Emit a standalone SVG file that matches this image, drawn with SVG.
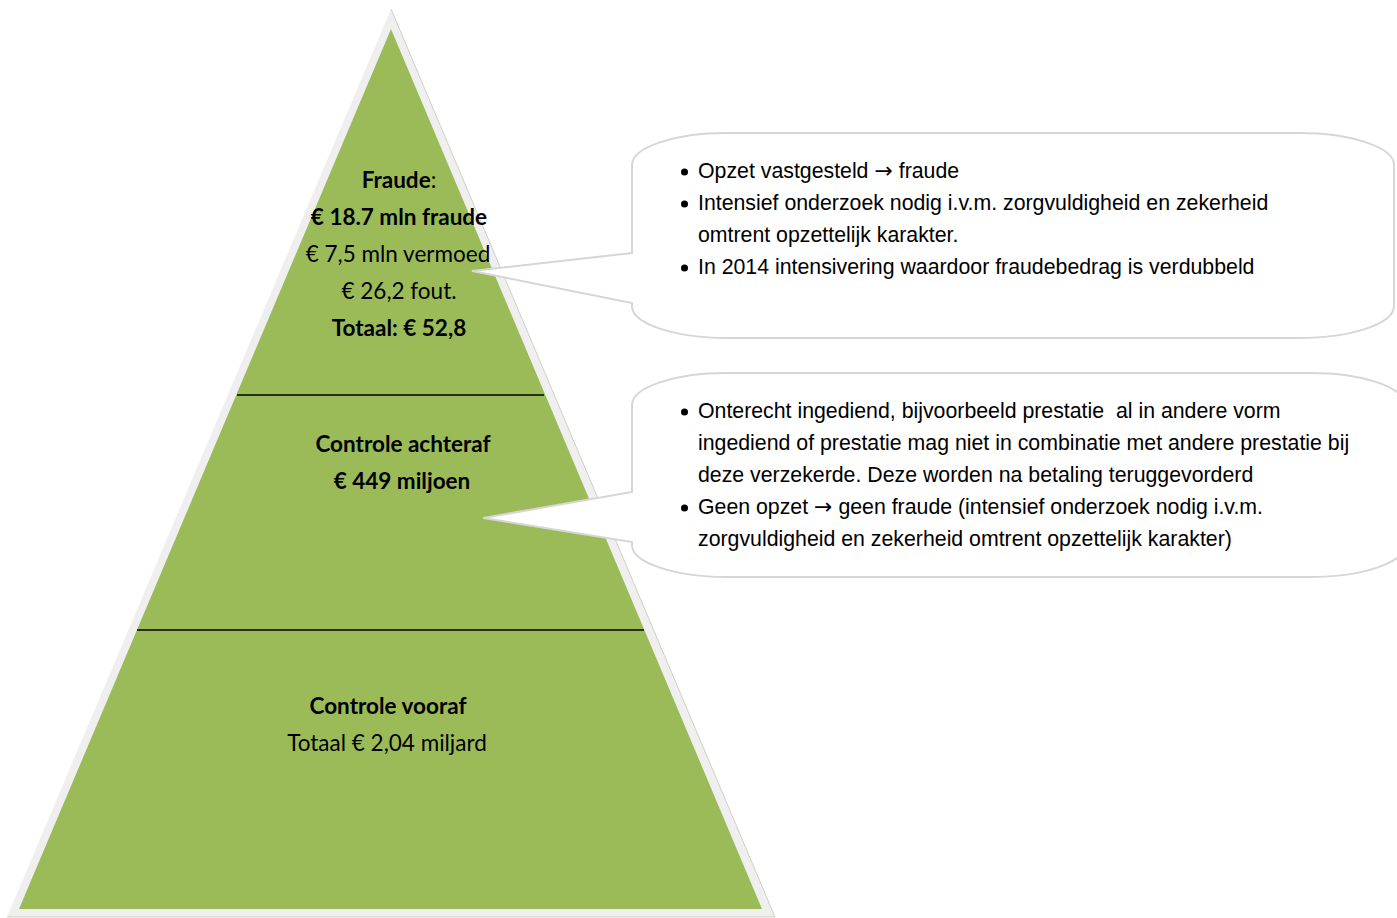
<svg xmlns="http://www.w3.org/2000/svg" width="1397" height="918" viewBox="0 0 1397 918">
<style>
.pt{font-family:Lato,"Open Sans","Liberation Sans",sans-serif;font-size:22.5px;fill:#000;text-anchor:middle}
.b{font-weight:bold}
.ct{font-family:"Liberation Sans",Arial,sans-serif;font-size:21.3px;fill:#000}
.ar{font-family:"DejaVu Sans",sans-serif;font-size:22px}
.call{fill:#fff;stroke:#d6d6d6;stroke-width:2}
</style>
<rect width="1397" height="918" fill="#fff"/>
<g id="pyramid">
<polygon points="391,9 7,917 775,917" fill="#efefef"/>
<polyline points="391,9 775,917 7,917" fill="none" stroke="#cfcfc3" stroke-width="1"/>
<polygon points="391,29 19,909 762,909" fill="#9bbb59"/>
<line x1="237" y1="395" x2="544" y2="395" stroke="#000" stroke-width="1.5"/>
<line x1="137" y1="630" x2="644" y2="630" stroke="#000" stroke-width="1.5"/>
</g>
<g id="tier-fraude">
<text class="pt" x="399" y="188"><tspan class="b">Fraude</tspan>:</text>
<text class="pt b" x="399" y="225">€ 18.7 mln fraude</text>
<text class="pt" x="398" y="262">€ 7,5 mln vermoed</text>
<text class="pt" x="399" y="299">€ 26,2 fout.</text>
<text class="pt b" x="399" y="336">Totaal: € 52,8</text>
</g>
<g id="tier-achteraf">
<text class="pt b" x="403" y="452">Controle achteraf</text>
<text class="pt b" x="402" y="489">€ 449 miljoen</text>
</g>
<g id="tier-vooraf">
<text class="pt b" x="388" y="714">Controle vooraf</text>
<text class="pt" x="387" y="751">Totaal € 2,04 miljard</text>
</g>
<g id="connectors">
<path id="callout1" class="call" d="M632,253 L632,165 A95,32 0 0 1 727,133 L1299,133 A95,32 0 0 1 1394,165 L1394,306 A95,32 0 0 1 1299,338 L727,338 A95,32 0 0 1 632,306 L632,303 L472,271 Z"/>
<path id="callout2" class="call" d="M632,492 L632,405 A95,32 0 0 1 727,373 L1310,373 A95,32 0 0 1 1405,405 L1405,545 A95,32 0 0 1 1310,577 L727,577 A95,32 0 0 1 632,545 L632,542 L483,518 Z"/>
</g>
<g id="note1">
<circle cx="684.5" cy="172" r="3.5"/>
<text class="ct" x="698" y="178">Opzet vastgesteld <tspan class="ar">→</tspan> fraude</text>
<circle cx="684.5" cy="204" r="3.5"/>
<text class="ct" x="698" y="210">Intensief onderzoek nodig i.v.m. zorgvuldigheid en zekerheid</text>
<text class="ct" x="698" y="242">omtrent opzettelijk karakter.</text>
<circle cx="684.5" cy="268" r="3.5"/>
<text class="ct" x="698" y="274">In 2014 intensivering waardoor fraudebedrag is verdubbeld</text>
</g>
<g id="note2">
<circle cx="684.5" cy="412" r="3.5"/>
<text class="ct" x="698" y="418" style="white-space:pre">Onterecht ingediend, bijvoorbeeld prestatie  al in andere vorm</text>
<text class="ct" x="698" y="450">ingediend of prestatie mag niet in combinatie met andere prestatie bij</text>
<text class="ct" x="698" y="482">deze verzekerde. Deze worden na betaling teruggevorderd</text>
<circle cx="684.5" cy="508" r="3.5"/>
<text class="ct" x="698" y="514">Geen opzet <tspan class="ar">→</tspan> geen fraude (intensief onderzoek nodig i.v.m.</text>
<text class="ct" x="698" y="546">zorgvuldigheid en zekerheid omtrent opzettelijk karakter)</text>
</g>
</svg>
